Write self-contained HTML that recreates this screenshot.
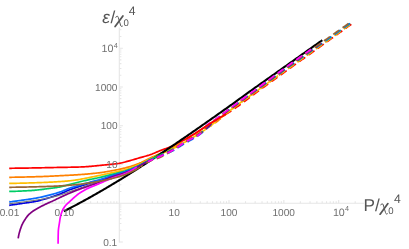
<!DOCTYPE html>
<html><head><meta charset="utf-8"><title>plot</title>
<style>
html,body{margin:0;padding:0;background:#fff;}
body{width:409px;height:249px;overflow:hidden;font-family:"Liberation Sans",sans-serif;}
svg{display:block;}
</style></head><body>
<svg width="409" height="249" viewBox="0 0 409 249">
<defs><filter id="tb" x="-5%" y="-20%" width="110%" height="140%"><feGaussianBlur stdDeviation="0.32"/></filter></defs>
<rect width="409" height="249" fill="#ffffff"/>
<g stroke="#e6e6e6" stroke-width="1.1" fill="none">
<path d="M9.2,203.2 H364"/>
<path d="M119.3,27.4 V242.4"/>
<path d="M9.60,203.2 v-3.3 M26.11,203.2 v-2 M35.77,203.2 v-2 M42.62,203.2 v-2 M47.94,203.2 v-2 M52.28,203.2 v-2 M55.95,203.2 v-2 M59.13,203.2 v-2 M61.94,203.2 v-2 M64.45,203.2 v-3.3 M80.96,203.2 v-2 M90.62,203.2 v-2 M97.47,203.2 v-2 M102.79,203.2 v-2 M107.13,203.2 v-2 M110.80,203.2 v-2 M113.98,203.2 v-2 M116.79,203.2 v-2 M135.81,203.2 v-2 M145.47,203.2 v-2 M152.32,203.2 v-2 M157.64,203.2 v-2 M161.98,203.2 v-2 M165.65,203.2 v-2 M168.83,203.2 v-2 M171.64,203.2 v-2 M174.15,203.2 v-3.3 M190.66,203.2 v-2 M200.32,203.2 v-2 M207.17,203.2 v-2 M212.49,203.2 v-2 M216.83,203.2 v-2 M220.50,203.2 v-2 M223.68,203.2 v-2 M226.49,203.2 v-2 M229.00,203.2 v-3.3 M245.51,203.2 v-2 M255.17,203.2 v-2 M262.02,203.2 v-2 M267.34,203.2 v-2 M271.68,203.2 v-2 M275.35,203.2 v-2 M278.53,203.2 v-2 M281.34,203.2 v-2 M283.85,203.2 v-3.3 M300.36,203.2 v-2 M310.02,203.2 v-2 M316.87,203.2 v-2 M322.19,203.2 v-2 M326.53,203.2 v-2 M330.20,203.2 v-2 M333.38,203.2 v-2 M336.19,203.2 v-2 M338.70,203.2 v-3.3 M355.21,203.2 v-2 M119.3,241.95 h3.6 M119.3,230.29 h2.1 M119.3,223.46 h2.1 M119.3,218.62 h2.1 M119.3,214.86 h2.1 M119.3,211.80 h2.1 M119.3,209.20 h2.1 M119.3,206.96 h2.1 M119.3,204.97 h2.1 M119.3,191.54 h2.1 M119.3,184.71 h2.1 M119.3,179.87 h2.1 M119.3,176.11 h2.1 M119.3,173.05 h2.1 M119.3,170.45 h2.1 M119.3,168.21 h2.1 M119.3,166.22 h2.1 M119.3,164.45 h3.6 M119.3,152.79 h2.1 M119.3,145.96 h2.1 M119.3,141.12 h2.1 M119.3,137.36 h2.1 M119.3,134.30 h2.1 M119.3,131.70 h2.1 M119.3,129.46 h2.1 M119.3,127.47 h2.1 M119.3,125.70 h3.6 M119.3,114.04 h2.1 M119.3,107.21 h2.1 M119.3,102.37 h2.1 M119.3,98.61 h2.1 M119.3,95.55 h2.1 M119.3,92.95 h2.1 M119.3,90.71 h2.1 M119.3,88.72 h2.1 M119.3,86.95 h3.6 M119.3,75.29 h2.1 M119.3,68.46 h2.1 M119.3,63.62 h2.1 M119.3,59.86 h2.1 M119.3,56.80 h2.1 M119.3,54.20 h2.1 M119.3,51.96 h2.1 M119.3,49.97 h2.1 M119.3,48.20 h3.6 M119.3,36.54 h2.1 M119.3,29.71 h2.1"/>
</g>
<g fill="none" stroke-width="1.7" stroke-linejoin="round" stroke-linecap="butt" transform="translate(0,0.4)">
<path d="M9.20,167.90 L10.20,167.89 L11.20,167.88 L12.20,167.86 L13.20,167.85 L14.20,167.84 L15.20,167.82 L16.20,167.81 L17.20,167.80 L18.20,167.78 L19.20,167.77 L20.20,167.75 L21.20,167.74 L22.20,167.72 L23.20,167.71 L24.20,167.69 L25.20,167.68 L26.20,167.66 L27.20,167.65 L28.20,167.63 L29.20,167.61 L30.20,167.60 L31.20,167.58 L32.20,167.56 L33.20,167.54 L34.20,167.53 L35.20,167.51 L36.20,167.49 L37.20,167.47 L38.20,167.45 L39.20,167.43 L40.20,167.41 L41.20,167.39 L42.20,167.37 L43.20,167.35 L44.20,167.33 L45.20,167.31 L46.20,167.29 L47.20,167.27 L48.20,167.25 L49.20,167.22 L50.20,167.20 L51.20,167.18 L52.20,167.16 L53.20,167.14 L54.20,167.12 L55.20,167.10 L56.20,167.08 L57.20,167.06 L58.20,167.04 L59.20,167.02 L60.20,167.00 L61.20,166.98 L62.20,166.96 L63.20,166.94 L64.20,166.92 L65.20,166.91 L66.20,166.89 L67.20,166.88 L68.20,166.86 L69.20,166.84 L70.20,166.83 L71.20,166.81 L72.20,166.79 L73.20,166.77 L74.20,166.75 L75.20,166.73 L76.20,166.71 L77.20,166.68 L78.20,166.65 L79.20,166.62 L80.20,166.59 L81.20,166.56 L82.20,166.51 L83.20,166.46 L84.20,166.40 L85.20,166.34 L86.20,166.28 L87.20,166.21 L88.20,166.13 L89.20,166.06 L90.20,165.98 L91.20,165.90 L92.20,165.81 L93.20,165.72 L94.20,165.62 L95.20,165.51 L96.20,165.40 L97.20,165.29 L98.20,165.19 L99.20,165.08 L100.20,164.98 L101.20,164.88 L102.20,164.78 L103.20,164.68 L104.20,164.59 L105.20,164.49 L106.20,164.39 L107.20,164.29 L108.20,164.19 L109.20,164.08 L110.20,163.98 L111.20,163.88 L112.20,163.78 L113.20,163.68 L114.20,163.59 L115.20,163.48 L116.20,163.37 L117.20,163.25 L118.20,163.12 L119.20,162.97 L120.20,162.78 L121.20,162.57 L122.20,162.32 L123.20,162.07 L124.20,161.81 L125.20,161.55 L126.20,161.29 L127.20,161.02 L128.20,160.75 L129.20,160.47 L130.20,160.18 L131.20,159.90 L132.20,159.60 L133.20,159.31 L134.20,159.01 L135.20,158.71 L136.20,158.42 L137.20,158.12 L138.20,157.82 L139.20,157.53 L140.20,157.24 L141.20,156.96 L142.20,156.68 L143.20,156.41 L144.20,156.14 L145.20,155.86 L146.20,155.58 L147.20,155.29 L148.20,154.98 L149.20,154.67 L150.20,154.33 L151.20,153.97 L152.20,153.59 L153.20,153.18 L154.20,152.76 L155.20,152.33 L156.20,151.89 L157.20,151.46 L158.20,151.04 L159.20,150.62 L160.20,150.22 L161.20,149.84 L162.20,149.47 L163.20,149.11 L164.20,148.75 L165.20,148.40 L166.20,148.04 L167.20,147.68 L168.20,147.31 L169.20,146.94 L170.20,146.55 L171.20,146.14 L172.20,145.71 L173.20,145.27 L174.20,144.80 L175.20,144.33 L176.20,143.83 L177.20,143.33 L178.20,142.81 L179.20,142.28 L180.20,141.75 L181.20,141.21 L182.20,140.66 L183.20,140.10 L184.20,139.55 L185.20,138.99 L186.20,138.42 L187.20,137.85 L188.20,137.26 L189.20,136.67 L190.20,136.07 L191.20,135.46 L192.20,134.85 L193.20,134.23 L194.20,133.60 L195.20,132.97 L196.20,132.34 L197.20,131.70 L198.20,131.06 L199.20,130.42 L200.20,129.77 L201.20,129.11 L202.20,128.44 L203.20,127.76 L204.20,127.07 L205.20,126.39 L206.20,125.72 L207.20,125.07 L208.20,124.43 L209.20,123.79 L210.20,123.16 L211.20,122.54 L212.20,121.92 L213.20,121.30 L214.20,120.69 L215.20,120.08 L216.20,119.47 L217.20,118.88 L218.20,118.29 L219.20,117.71 L220.20,117.13 L221.20,116.56 L222.20,115.98 L223.20,115.40 L224.20,114.82 L225.20,114.23 L226.00,113.76" stroke="#ff0000"/>
<path d="M9.20,176.90 L10.20,176.89 L11.20,176.88 L12.20,176.87 L13.20,176.85 L14.20,176.84 L15.20,176.82 L16.20,176.81 L17.20,176.79 L18.20,176.77 L19.20,176.75 L20.20,176.73 L21.20,176.71 L22.20,176.69 L23.20,176.67 L24.20,176.64 L25.20,176.62 L26.20,176.59 L27.20,176.57 L28.20,176.54 L29.20,176.52 L30.20,176.49 L31.20,176.46 L32.20,176.43 L33.20,176.40 L34.20,176.38 L35.20,176.35 L36.20,176.32 L37.20,176.29 L38.20,176.26 L39.20,176.22 L40.20,176.19 L41.20,176.16 L42.20,176.13 L43.20,176.09 L44.20,176.05 L45.20,176.01 L46.20,175.97 L47.20,175.92 L48.20,175.88 L49.20,175.83 L50.20,175.79 L51.20,175.74 L52.20,175.69 L53.20,175.64 L54.20,175.59 L55.20,175.54 L56.20,175.49 L57.20,175.44 L58.20,175.39 L59.20,175.34 L60.20,175.29 L61.20,175.24 L62.20,175.19 L63.20,175.14 L64.20,175.09 L65.20,175.04 L66.20,174.99 L67.20,174.94 L68.20,174.89 L69.20,174.84 L70.20,174.79 L71.20,174.74 L72.20,174.68 L73.20,174.63 L74.20,174.57 L75.20,174.51 L76.20,174.45 L77.20,174.39 L78.20,174.32 L79.20,174.25 L80.20,174.19 L81.20,174.11 L82.20,174.04 L83.20,173.97 L84.20,173.89 L85.20,173.81 L86.20,173.72 L87.20,173.64 L88.20,173.55 L89.20,173.46 L90.20,173.37 L91.20,173.27 L92.20,173.17 L93.20,173.07 L94.20,172.97 L95.20,172.86 L96.20,172.75 L97.20,172.63 L98.20,172.52 L99.20,172.40 L100.20,172.28 L101.20,172.14 L102.20,172.00 L103.20,171.85 L104.20,171.69 L105.20,171.53 L106.20,171.36 L107.20,171.18 L108.20,171.00 L109.20,170.82 L110.20,170.63 L111.20,170.45 L112.20,170.26 L113.20,170.08 L114.20,169.89 L115.20,169.70 L116.20,169.51 L117.20,169.32 L118.20,169.12 L119.20,168.92 L120.20,168.71 L121.20,168.49 L122.20,168.27 L123.20,168.04 L124.20,167.80 L125.20,167.55 L126.20,167.29 L127.20,167.02 L128.20,166.73 L129.20,166.44 L130.20,166.13 L131.20,165.81 L132.20,165.49 L133.20,165.15 L134.20,164.80 L135.20,164.45 L136.20,164.08 L137.20,163.71 L138.20,163.32 L139.20,162.92 L140.20,162.48 L141.20,162.03 L142.20,161.55 L143.20,161.06 L144.20,160.56 L145.20,160.06 L146.20,159.56 L147.20,159.05 L148.20,158.56 L149.20,158.08 L150.20,157.61 L151.20,157.15 L152.20,156.70 L153.20,156.25 L154.20,155.80 L155.20,155.36 L156.20,154.91 L157.20,154.46 L158.20,154.02 L159.20,153.56 L160.20,153.11 L161.20,152.65 L162.20,152.20 L163.20,151.74 L164.20,151.29 L165.20,150.83 L166.20,150.37 L167.20,149.91 L168.20,149.44 L169.20,148.97 L170.20,148.48 L171.20,148.00 L172.20,147.50 L173.20,146.99 L174.20,146.48 L175.20,145.96 L176.00,145.54" stroke="#ff8000"/>
<path d="M9.20,183.00 L10.20,182.99 L11.20,182.97 L12.20,182.96 L13.20,182.94 L14.20,182.93 L15.20,182.91 L16.20,182.89 L17.20,182.87 L18.20,182.85 L19.20,182.83 L20.20,182.80 L21.20,182.78 L22.20,182.75 L23.20,182.73 L24.20,182.70 L25.20,182.67 L26.20,182.65 L27.20,182.62 L28.20,182.59 L29.20,182.56 L30.20,182.53 L31.20,182.50 L32.20,182.46 L33.20,182.43 L34.20,182.40 L35.20,182.36 L36.20,182.33 L37.20,182.30 L38.20,182.26 L39.20,182.23 L40.20,182.19 L41.20,182.16 L42.20,182.12 L43.20,182.08 L44.20,182.04 L45.20,182.00 L46.20,181.95 L47.20,181.91 L48.20,181.86 L49.20,181.81 L50.20,181.76 L51.20,181.71 L52.20,181.66 L53.20,181.60 L54.20,181.55 L55.20,181.49 L56.20,181.43 L57.20,181.37 L58.20,181.31 L59.20,181.25 L60.20,181.19 L61.20,181.12 L62.20,181.05 L63.20,180.98 L64.20,180.90 L65.20,180.82 L66.20,180.74 L67.20,180.65 L68.20,180.56 L69.20,180.46 L70.20,180.36 L71.20,180.24 L72.20,180.12 L73.20,179.99 L74.20,179.85 L75.20,179.70 L76.20,179.55 L77.20,179.39 L78.20,179.23 L79.20,179.07 L80.20,178.90 L81.20,178.72 L82.20,178.54 L83.20,178.35 L84.20,178.16 L85.20,177.96 L86.20,177.76 L87.20,177.56 L88.20,177.36 L89.20,177.16 L90.20,176.96 L91.20,176.75 L92.20,176.55 L93.20,176.34 L94.20,176.13 L95.20,175.92 L96.20,175.71 L97.20,175.49 L98.20,175.28 L99.20,175.07 L100.20,174.86 L101.20,174.64 L102.20,174.43 L103.20,174.22 L104.20,174.00 L105.20,173.78 L106.20,173.57 L107.20,173.35 L108.20,173.13 L109.20,172.91 L110.20,172.70 L111.20,172.48 L112.20,172.26 L113.20,172.04 L114.20,171.83 L115.20,171.62 L116.20,171.42 L117.20,171.21 L118.20,171.01 L119.20,170.80 L120.20,170.58 L121.20,170.36 L122.20,170.12 L123.20,169.88 L124.20,169.62 L125.20,169.34 L126.20,169.05 L127.20,168.74 L128.20,168.42 L129.20,168.07 L130.20,167.72 L131.20,167.35 L132.20,166.97 L133.20,166.58 L134.20,166.18 L135.20,165.77 L136.20,165.36 L137.20,164.94 L138.20,164.52 L139.20,164.08 L140.20,163.62 L141.20,163.14 L142.20,162.65 L143.20,162.15 L144.20,161.64 L145.20,161.13 L146.20,160.61 L147.20,160.10 L148.20,159.59 L149.20,159.09 L150.20,158.60 L151.20,158.12 L152.20,157.63 L153.20,157.14 L154.20,156.65 L155.20,156.16 L156.20,155.68 L157.20,155.20 L158.20,154.73 L159.20,154.26 L160.20,153.81 L161.20,153.37 L162.20,152.94 L163.20,152.53 L164.20,152.12 L165.20,151.72 L166.20,151.31 L167.20,150.90 L168.20,150.49 L169.20,150.07 L170.20,149.63 L171.20,149.18 L172.20,148.70 L173.20,148.21 L174.20,147.70 L175.20,147.17 L176.20,146.63 L177.20,146.08 L178.20,145.52 L179.20,144.95 L180.20,144.38 L181.20,143.80 L182.20,143.22 L183.20,142.64 L184.20,142.06 L185.20,141.49 L186.20,140.91 L187.20,140.34 L188.20,139.76 L189.20,139.19 L190.20,138.61 L191.20,138.03 L192.20,137.44 L193.20,136.85 L194.20,136.26 L195.20,135.66 L196.20,135.06 L197.20,134.45 L198.20,133.83 L199.20,133.21 L200.20,132.57 L201.20,131.93 L202.20,131.28 L203.20,130.61 L204.20,129.94 L205.00,129.39" stroke="#ffbf00"/>
<path d="M63.80,210.90 L64.80,210.40 L65.80,209.89 L66.80,209.38 L67.80,208.86 L68.80,208.35 L69.80,207.83 L70.80,207.32 L71.80,206.79 L72.80,206.27 L73.80,205.75 L74.80,205.22 L75.80,204.69 L76.80,204.16 L77.80,203.62 L78.80,203.09 L79.80,202.55 L80.80,202.01 L81.80,201.47 L82.80,200.92 L83.80,200.38 L84.80,199.83 L85.80,199.28 L86.80,198.73 L87.80,198.17 L88.80,197.62 L89.80,197.06 L90.80,196.50 L91.80,195.94 L92.80,195.38 L93.80,194.81 L94.80,194.24 L95.80,193.67 L96.80,193.10 L97.80,192.53 L98.80,191.96 L99.80,191.38 L100.80,190.80 L101.80,190.22 L102.80,189.64 L103.80,189.05 L104.80,188.47 L105.80,187.88 L106.80,187.29 L107.80,186.70 L108.80,186.11 L109.80,185.52 L110.80,184.92 L111.80,184.32 L112.80,183.72 L113.80,183.12 L114.80,182.52 L115.80,181.92 L116.80,181.31 L117.80,180.71 L118.80,180.10 L119.80,179.49 L120.80,178.87 L121.80,178.26 L122.80,177.65 L123.80,177.03 L124.80,176.41 L125.80,175.79 L126.80,175.17 L127.80,174.55 L128.80,173.93 L129.80,173.30 L130.80,172.67 L131.80,172.05 L132.80,171.42 L133.80,170.78 L134.80,170.15 L135.80,169.52 L136.80,168.88 L137.80,168.25 L138.80,167.61 L139.80,166.97 L140.80,166.33 L141.80,165.69 L142.80,165.04 L143.80,164.40 L144.80,163.75 L145.80,163.11 L146.80,162.46 L147.80,161.81 L148.80,161.16 L149.80,160.51 L150.80,159.86 L151.80,159.20 L152.80,158.55 L153.80,157.89 L154.80,157.23 L155.80,156.57 L156.80,155.91 L157.80,155.25 L158.80,154.59 L159.80,153.93 L160.80,153.26 L161.80,152.60 L162.80,151.93 L163.80,151.26 L164.80,150.60 L165.80,149.93 L166.80,149.26 L167.80,148.58 L168.80,147.91 L169.80,147.24 L170.80,146.56 L171.80,145.89 L172.80,145.21 L173.80,144.54 L174.80,143.86 L175.80,143.18 L176.80,142.50 L177.80,141.82 L178.80,141.14 L179.80,140.45 L180.80,139.77 L181.80,139.09 L182.80,138.40 L183.80,137.72 L184.80,137.03 L185.80,136.34 L186.80,135.66 L187.80,134.97 L188.80,134.28 L189.80,133.59 L190.80,132.90 L191.80,132.21 L192.80,131.51 L193.80,130.82 L194.80,130.13 L195.80,129.43 L196.80,128.74 L197.80,128.04 L198.80,127.35 L199.80,126.65 L200.80,125.95 L201.80,125.26 L202.80,124.56 L203.80,123.86 L204.80,123.16 L205.80,122.46 L206.80,121.76 L207.80,121.06 L208.80,120.36 L209.80,119.66 L210.80,118.95 L211.80,118.25 L212.80,117.55 L213.80,116.84 L214.80,116.14 L215.80,115.43 L216.80,114.73 L217.80,114.02 L218.80,113.32 L219.80,112.61 L220.80,111.91 L221.80,111.20 L222.80,110.49 L223.80,109.79 L224.80,109.08 L225.80,108.37 L226.80,107.66 L227.80,106.96 L228.80,106.25 L229.80,105.54 L230.80,104.82 L231.80,104.11 L232.80,103.39 L233.80,102.66 L234.80,101.94 L235.80,101.22 L236.80,100.49 L237.80,99.76 L238.80,99.04 L239.80,98.31 L240.80,97.58 L241.80,96.85 L242.80,96.13 L243.80,95.40 L244.80,94.68 L245.80,93.95 L246.80,93.23 L247.80,92.51 L248.80,91.79 L249.80,91.07 L250.80,90.36 L251.80,89.64 L252.80,88.93 L253.80,88.22 L254.80,87.51 L255.80,86.80 L256.80,86.09 L257.80,85.39 L258.80,84.68 L259.80,83.97 L260.80,83.27 L261.80,82.56 L262.80,81.86 L263.80,81.15 L264.80,80.45 L265.80,79.74 L266.80,79.04 L267.80,78.33 L268.80,77.63 L269.80,76.92 L270.80,76.21 L271.80,75.50 L272.80,74.80 L273.80,74.09 L274.80,73.38 L275.80,72.67 L276.80,71.97 L277.80,71.26 L278.80,70.55 L279.80,69.84 L280.80,69.14 L281.80,68.43 L282.80,67.72 L283.80,67.01 L284.80,66.31 L285.80,65.60 L286.80,64.89 L287.80,64.18 L288.80,63.48 L289.80,62.77 L290.80,62.06 L291.80,61.35 L292.80,60.65 L293.80,59.94 L294.80,59.23 L295.80,58.52 L296.80,57.82 L297.80,57.11 L298.80,56.40 L299.80,55.69 L300.80,54.99 L301.80,54.28 L302.80,53.57 L303.80,52.86 L304.80,52.16 L305.80,51.45 L306.80,50.74 L307.80,50.03 L308.80,49.33 L309.80,48.62 L310.80,47.91 L311.80,47.20 L312.80,46.50 L313.80,45.79 L314.80,45.08 L315.80,44.37 L316.80,43.67 L317.80,42.96 L318.80,42.25 L319.80,41.54 L320.80,40.84 L321.80,40.13 L322.30,39.78" stroke="#000" stroke-width="2.1"/>
<path d="M9.20,191.00 L10.20,191.00 L11.20,190.99 L12.20,190.97 L13.20,190.95 L14.20,190.93 L15.20,190.90 L16.20,190.87 L17.20,190.84 L18.20,190.80 L19.20,190.76 L20.20,190.72 L21.20,190.67 L22.20,190.62 L23.20,190.57 L24.20,190.52 L25.20,190.47 L26.20,190.41 L27.20,190.36 L28.20,190.30 L29.20,190.25 L30.20,190.19 L31.20,190.13 L32.20,190.05 L33.20,189.98 L34.20,189.89 L35.20,189.80 L36.20,189.70 L37.20,189.60 L38.20,189.49 L39.20,189.37 L40.20,189.26 L41.20,189.14 L42.20,189.01 L43.20,188.89 L44.20,188.76 L45.20,188.63 L46.20,188.50 L47.20,188.37 L48.20,188.23 L49.20,188.10 L50.20,187.97 L51.20,187.84 L52.20,187.71 L53.20,187.58 L54.20,187.44 L55.20,187.30 L56.20,187.15 L57.20,186.99 L58.20,186.82 L59.20,186.65 L60.20,186.46 L61.20,186.25 L62.20,186.03 L63.20,185.78 L64.20,185.52 L65.20,185.25 L66.20,184.97 L67.20,184.70 L68.20,184.42 L69.20,184.16 L70.20,183.90 L71.20,183.64 L72.20,183.38 L73.20,183.12 L74.20,182.87 L75.20,182.61 L76.20,182.35 L77.20,182.10 L78.20,181.85 L79.20,181.60 L80.20,181.35 L81.20,181.11 L82.20,180.87 L83.20,180.63 L84.20,180.39 L85.20,180.16 L86.20,179.92 L87.20,179.69 L88.20,179.47 L89.20,179.24 L90.20,179.03 L91.20,178.82 L92.20,178.61 L93.20,178.41 L94.20,178.21 L95.20,178.01 L96.20,177.81 L97.20,177.60 L98.20,177.39 L99.20,177.18 L100.20,176.95 L101.20,176.72 L102.20,176.49 L103.20,176.24 L104.20,176.00 L105.20,175.75 L106.20,175.49 L107.20,175.24 L108.20,174.98 L109.20,174.72 L110.20,174.46 L111.20,174.21 L112.20,173.95 L113.20,173.70 L114.20,173.45 L115.20,173.21 L116.20,172.96 L117.20,172.72 L118.20,172.47 L119.20,172.22 L120.20,171.96 L121.20,171.70 L122.20,171.43 L123.20,171.14 L124.20,170.85 L125.20,170.54 L126.20,170.21 L127.20,169.87 L128.20,169.52 L129.20,169.15 L130.20,168.77 L131.20,168.39 L132.20,167.98 L133.20,167.57 L134.20,167.16 L135.20,166.73 L136.20,166.30 L137.20,165.86 L138.20,165.41 L139.20,164.95 L140.20,164.46 L141.20,163.95 L142.20,163.43 L143.20,162.90 L144.20,162.36 L145.20,161.82 L146.20,161.28 L147.20,160.74 L148.20,160.21 L149.20,159.70 L150.20,159.20 L151.20,158.71 L152.20,158.23 L153.20,157.76 L154.20,157.29 L155.20,156.82 L156.20,156.35 L157.20,155.89 L158.20,155.43 L159.20,154.97 L160.00,154.60" stroke="#00cc66"/>
<path d="M9.20,204.90 L10.20,204.76 L11.20,204.61 L12.20,204.47 L13.20,204.33 L14.20,204.18 L15.20,204.04 L16.20,203.89 L17.20,203.75 L18.20,203.60 L19.20,203.45 L20.20,203.31 L21.20,203.16 L22.20,203.01 L23.20,202.87 L24.20,202.72 L25.20,202.57 L26.20,202.43 L27.20,202.29 L28.20,202.15 L29.20,202.01 L30.20,201.87 L31.20,201.73 L32.20,201.58 L33.20,201.42 L34.20,201.25 L35.20,201.06 L36.20,200.86 L37.20,200.65 L38.20,200.42 L39.20,200.17 L40.20,199.92 L41.20,199.65 L42.20,199.38 L43.20,199.11 L44.20,198.83 L45.20,198.54 L46.20,198.26 L47.20,197.96 L48.20,197.66 L49.20,197.35 L50.20,197.04 L51.20,196.71 L52.20,196.39 L53.20,196.05 L54.20,195.71 L55.20,195.36 L56.20,195.01 L57.20,194.65 L58.20,194.28 L59.20,193.90 L60.20,193.52 L61.20,193.12 L62.20,192.69 L63.20,192.24 L64.20,191.77 L65.20,191.31 L66.20,190.84 L67.20,190.39 L68.20,189.95 L69.20,189.53 L70.20,189.15 L71.20,188.78 L72.20,188.43 L73.20,188.08 L74.20,187.75 L75.20,187.42 L76.20,187.10 L77.20,186.77 L78.20,186.45 L79.20,186.13 L80.20,185.80 L81.20,185.48 L82.20,185.16 L83.20,184.84 L84.20,184.52 L85.20,184.20 L86.20,183.89 L87.20,183.58 L88.20,183.27 L89.20,182.96 L90.20,182.66 L91.20,182.36 L92.20,182.08 L93.20,181.79 L94.20,181.51 L95.20,181.22 L96.20,180.94 L97.20,180.65 L98.20,180.35 L99.20,180.05 L100.20,179.74 L101.20,179.41 L102.20,179.08 L103.20,178.74 L104.20,178.40 L105.20,178.05 L106.20,177.69 L107.20,177.34 L108.20,176.99 L109.20,176.64 L110.20,176.30 L111.20,175.96 L112.20,175.64 L113.20,175.32 L114.20,175.01 L115.20,174.71 L116.20,174.42 L117.20,174.13 L118.20,173.84 L119.20,173.55 L120.20,173.25 L121.20,172.95 L122.20,172.64 L123.20,172.32 L124.20,171.98 L125.20,171.63 L126.20,171.26 L127.20,170.89 L128.20,170.50 L129.20,170.10 L130.20,169.69 L131.20,169.27 L132.20,168.84 L133.20,168.40 L134.20,167.95 L135.20,167.50 L136.20,167.04 L137.20,166.58 L138.20,166.10 L139.20,165.62 L140.20,165.10 L141.20,164.58 L142.20,164.03 L143.20,163.48 L144.20,162.93 L145.20,162.37 L146.20,161.82 L147.20,161.27 L148.20,160.73 L149.20,160.21 L150.00,159.80" stroke="#0000e0"/>
<path d="M9.20,201.60 L10.20,201.47 L11.20,201.33 L12.20,201.20 L13.20,201.06 L14.20,200.93 L15.20,200.79 L16.20,200.65 L17.20,200.51 L18.20,200.37 L19.20,200.23 L20.20,200.09 L21.20,199.95 L22.20,199.80 L23.20,199.66 L24.20,199.52 L25.20,199.37 L26.20,199.23 L27.20,199.09 L28.20,198.95 L29.20,198.80 L30.20,198.66 L31.20,198.51 L32.20,198.36 L33.20,198.20 L34.20,198.04 L35.20,197.86 L36.20,197.68 L37.20,197.50 L38.20,197.30 L39.20,197.10 L40.20,196.89 L41.20,196.67 L42.20,196.45 L43.20,196.22 L44.20,195.99 L45.20,195.75 L46.20,195.51 L47.20,195.27 L48.20,195.02 L49.20,194.76 L50.20,194.50 L51.20,194.23 L52.20,193.96 L53.20,193.68 L54.20,193.40 L55.20,193.11 L56.20,192.81 L57.20,192.50 L58.20,192.19 L59.20,191.86 L60.20,191.53 L61.20,191.18 L62.20,190.79 L63.20,190.38 L64.20,189.96 L65.20,189.53 L66.20,189.10 L67.20,188.69 L68.20,188.29 L69.20,187.91 L70.20,187.57 L71.20,187.24 L72.20,186.93 L73.20,186.63 L74.20,186.33 L75.20,186.05 L76.20,185.77 L77.20,185.48 L78.20,185.20 L79.20,184.92 L80.20,184.63 L81.20,184.33 L82.20,184.04 L83.20,183.75 L84.20,183.47 L85.20,183.18 L86.20,182.89 L87.20,182.61 L88.20,182.33 L89.20,182.05 L90.20,181.78 L91.20,181.52 L92.20,181.26 L93.20,181.00 L94.20,180.75 L95.20,180.49 L96.20,180.24 L97.20,179.97 L98.20,179.71 L99.20,179.43 L100.20,179.14 L101.20,178.84 L102.20,178.53 L103.20,178.21 L104.20,177.88 L105.20,177.55 L106.20,177.21 L107.20,176.88 L108.20,176.54 L109.20,176.21 L110.20,175.88 L111.20,175.55 L112.20,175.24 L113.20,174.93 L114.20,174.64 L115.20,174.35 L116.20,174.06 L117.20,173.78 L118.20,173.49 L119.20,173.21 L120.20,172.92 L121.20,172.62 L122.20,172.32 L123.20,172.00 L124.20,171.67 L125.20,171.33 L126.20,170.97 L127.20,170.60 L128.20,170.22 L129.20,169.83 L130.20,169.43 L131.20,169.01 L132.20,168.59 L133.20,168.16 L134.20,167.72 L135.20,167.28 L136.20,166.83 L137.20,166.37 L138.20,165.91 L139.20,165.42 L140.20,164.90 L141.20,164.37 L142.20,163.81 L143.20,163.25 L144.20,162.69 L145.20,162.13 L146.20,161.58 L147.20,161.05 L148.20,160.54 L149.20,160.06 L150.00,159.70" stroke="#0a6cff"/>
<path d="M9.20,203.40 L10.20,203.27 L11.20,203.14 L12.20,203.01 L13.20,202.88 L14.20,202.75 L15.20,202.62 L16.20,202.49 L17.20,202.35 L18.20,202.22 L19.20,202.09 L20.20,201.95 L21.20,201.82 L22.20,201.68 L23.20,201.55 L24.20,201.41 L25.20,201.27 L26.20,201.14 L27.20,201.00 L28.20,200.87 L29.20,200.73 L30.20,200.59 L31.20,200.45 L32.20,200.31 L33.20,200.17 L34.20,200.02 L35.20,199.87 L36.20,199.71 L37.20,199.56 L38.20,199.40 L39.20,199.23 L40.20,199.07 L41.20,198.90 L42.20,198.72 L43.20,198.54 L44.20,198.35 L45.20,198.16 L46.20,197.96 L47.20,197.76 L48.20,197.56 L49.20,197.35 L50.20,197.14 L51.20,196.92 L52.20,196.69 L53.20,196.46 L54.20,196.22 L55.20,195.98 L56.20,195.73 L57.20,195.47 L58.20,195.20 L59.20,194.93 L60.20,194.64 L61.20,194.34 L62.20,194.01 L63.20,193.66 L64.20,193.29 L65.20,192.92 L66.20,192.54 L67.20,192.16 L68.20,191.78 L69.20,191.41 L70.20,191.06 L71.20,190.71 L72.20,190.36 L73.20,190.02 L74.20,189.67 L75.20,189.33 L76.20,188.98 L77.20,188.64 L78.20,188.29 L79.20,187.94 L80.20,187.59 L81.20,187.23 L82.20,186.88 L83.20,186.52 L84.20,186.16 L85.20,185.80 L86.20,185.44 L87.20,185.08 L88.20,184.72 L89.20,184.37 L90.20,184.02 L91.20,183.67 L92.20,183.32 L93.20,182.97 L94.20,182.62 L95.20,182.28 L96.00,182.00" stroke="#7a7a7a" stroke-width="1.1"/>
<path d="M18.20,238.00 L18.34,236.99 L18.51,235.98 L18.70,234.99 L18.91,234.00 L19.15,233.02 L19.41,232.05 L19.68,231.09 L19.97,230.13 L20.27,229.18 L20.59,228.24 L20.92,227.31 L21.25,226.38 L21.59,225.46 L21.97,224.54 L22.40,223.64 L22.86,222.74 L23.35,221.86 L23.86,220.99 L24.37,220.13 L24.90,219.28 L25.44,218.44 L26.00,217.60 L26.59,216.77 L27.20,215.97 L27.84,215.21 L28.50,214.49 L29.20,213.80 L29.94,213.13 L30.71,212.48 L31.51,211.86 L32.32,211.25 L33.14,210.66 L33.96,210.09 L34.79,209.54 L35.63,209.02 L36.50,208.51 L37.37,208.02 L38.25,207.54 L39.14,207.07 L40.03,206.60 L40.91,206.14 L41.80,205.68 L42.69,205.23 L43.59,204.79 L44.49,204.35 L45.39,203.92 L46.30,203.49 L47.20,203.07 L48.11,202.65 L49.03,202.25 L49.94,201.85 L50.86,201.44 L51.77,201.03 L52.68,200.62 L53.58,200.19 L54.49,199.76 L55.39,199.32 L56.29,198.88 L57.18,198.45 L58.08,198.01 L58.99,197.58 L59.89,197.15 L60.80,196.73 L61.70,196.31 L62.61,195.89 L63.52,195.47 L64.43,195.06 L65.34,194.65 L66.26,194.24 L67.17,193.83 L68.09,193.43 L69.01,193.04 L69.93,192.65 L70.85,192.26 L71.77,191.88 L72.70,191.50 L73.62,191.12 L74.55,190.75 L75.48,190.38 L76.41,190.01 L77.35,189.65 L78.28,189.29 L79.22,188.94 L80.15,188.60 L81.09,188.26 L82.04,187.92 L82.98,187.60 L83.93,187.27 L84.87,186.95 L85.82,186.63 L86.77,186.31 L87.71,185.99 L88.66,185.66 L89.60,185.33 L90.55,185.00 L91.49,184.67 L92.44,184.34 L93.38,184.01 L94.33,183.68 L95.27,183.35 L96.21,183.01 L97.15,182.67 L98.09,182.32 L99.03,181.97 L99.96,181.62 L100.89,181.25 L101.81,180.86 L102.73,180.47 L103.65,180.07 L104.56,179.66 L105.48,179.25 L106.39,178.84 L107.30,178.43 L108.22,178.03 L109.14,177.63 L110.06,177.25 L110.99,176.88 L111.92,176.53 L112.86,176.20 L113.81,175.88 L114.76,175.57 L115.72,175.28 L116.68,174.99 L117.64,174.71 L118.61,174.43 L119.57,174.15 L120.53,173.87 L121.49,173.58 L122.44,173.28 L123.39,172.97 L124.33,172.64 L125.27,172.30 L126.20,171.94 L127.12,171.58 L128.05,171.20 L128.97,170.82 L129.88,170.42 L130.80,170.02 L131.71,169.61 L132.62,169.19 L133.53,168.76 L134.43,168.32 L135.33,167.88 L136.22,167.42 L137.12,166.96 L138.00,166.50 L139.00,165.91 L140.00,165.33 L141.00,164.76 L142.00,164.20 L143.00,163.64 L144.00,163.10 L145.00,162.56 L146.00,162.03 L147.00,161.51 L148.00,161.00 L149.00,160.49 L150.00,160.00" stroke="#800080"/>
<path d="M58.10,243.40 L58.10,242.40 L58.11,241.39 L58.11,240.39 L58.12,239.39 L58.14,238.39 L58.15,237.39 L58.17,236.39 L58.19,235.39 L58.21,234.39 L58.24,233.39 L58.27,232.40 L58.29,231.40 L58.34,230.41 L58.41,229.41 L58.52,228.42 L58.64,227.43 L58.79,226.44 L58.95,225.45 L59.11,224.46 L59.28,223.47 L59.44,222.48 L59.59,221.49 L59.73,220.50 L59.87,219.50 L60.02,218.51 L60.19,217.53 L60.40,216.56 L60.63,215.57 L60.88,214.59 L61.16,213.62 L61.47,212.65 L61.80,211.70 L62.15,210.78 L62.52,209.87 L62.94,208.99 L63.43,208.12 L63.97,207.27 L64.56,206.44 L65.18,205.63 L65.82,204.85 L66.47,204.11 L67.18,203.42 L67.94,202.75 L68.70,202.09 L69.43,201.41 L70.17,200.73 L70.90,200.05 L71.63,199.36 L72.36,198.68 L73.10,198.01 L73.84,197.34 L74.60,196.69 L75.36,196.04 L76.12,195.39 L76.90,194.75 L77.68,194.12 L78.47,193.51 L79.27,192.93 L80.10,192.37 L80.94,191.83 L81.80,191.32 L82.67,190.82 L83.54,190.33 L84.42,189.84 L85.30,189.37 L86.18,188.89 L87.07,188.43 L87.96,187.98 L88.86,187.55 L89.77,187.13 L90.69,186.74 L91.62,186.37 L92.55,186.00 L93.48,185.63 L94.41,185.26 L95.33,184.87 L96.25,184.48 L97.17,184.10 L98.09,183.71 L99.01,183.32 L99.94,182.93 L100.86,182.54 L101.77,182.14 L102.69,181.74 L103.61,181.34 L104.52,180.93 L105.44,180.53 L106.36,180.13 L107.28,179.73 L108.20,179.34 L109.12,178.95 L110.04,178.57 L110.97,178.20 L111.90,177.84 L112.83,177.49 L113.78,177.16 L114.73,176.83 L115.68,176.52 L116.64,176.22 L117.60,175.91 L118.56,175.61 L119.52,175.31 L120.47,175.00 L121.42,174.68 L122.36,174.34 L123.29,174.00 L124.21,173.63 L125.12,173.25 L126.02,172.84 L126.92,172.42 L127.81,171.98 L128.69,171.52 L129.57,171.05 L130.45,170.57 L131.32,170.07 L132.18,169.55 L133.04,169.03 L133.89,168.49 L134.74,167.94 L135.58,167.37 L136.41,166.80 L136.70,166.60" stroke="#ff00ff"/>
<path d="M9.20,186.90 L10.20,186.89 L11.20,186.88 L12.20,186.87 L13.20,186.86 L14.20,186.85 L15.20,186.84 L16.20,186.82 L17.20,186.81 L18.20,186.79 L19.20,186.78 L20.20,186.76 L21.20,186.74 L22.20,186.72 L23.20,186.70 L24.20,186.68 L25.20,186.66 L26.20,186.64 L27.20,186.62 L28.20,186.60 L29.20,186.57 L30.20,186.55 L31.20,186.53 L32.20,186.50 L33.20,186.48 L34.20,186.45 L35.20,186.43 L36.20,186.40 L37.20,186.37 L38.20,186.35 L39.20,186.32 L40.20,186.29 L41.20,186.27 L42.20,186.24 L43.20,186.21 L44.20,186.18 L45.20,186.14 L46.20,186.11 L47.20,186.07 L48.20,186.04 L49.20,186.00 L50.20,185.96 L51.20,185.92 L52.20,185.87 L53.20,185.83 L54.20,185.79 L55.20,185.74 L56.20,185.69 L57.20,185.64 L58.20,185.59 L59.20,185.54 L60.20,185.49 L61.20,185.43 L62.20,185.37 L63.20,185.30 L64.20,185.23 L65.20,185.16 L66.20,185.09 L67.20,185.01 L68.20,184.93 L69.20,184.85 L70.20,184.77 L71.20,184.69 L72.20,184.60 L73.20,184.52 L74.20,184.43 L75.20,184.34 L76.20,184.25 L77.20,184.15 L78.20,184.05 L79.20,183.94 L80.20,183.83 L81.20,183.71 L82.20,183.58 L83.20,183.44 L84.20,183.29 L85.20,183.14 L86.20,182.99 L87.20,182.84 L88.20,182.68 L89.20,182.53 L90.20,182.38 L91.20,182.23 L92.20,182.08 L93.20,181.93 L94.20,181.77 L95.20,181.61 L96.20,181.45 L97.20,181.29 L98.20,181.12 L99.20,180.94 L100.20,180.76 L101.20,180.58 L102.20,180.38 L103.20,180.18 L104.20,179.98 L105.20,179.77 L106.20,179.56 L107.20,179.34 L108.20,179.11 L109.20,178.88 L110.20,178.64 L111.20,178.40 L112.20,178.15 L113.20,177.90 L114.20,177.64 L115.20,177.37 L116.20,177.10 L117.20,176.82 L118.20,176.53 L119.20,176.24 L120.20,175.93 L121.20,175.61 L122.20,175.28 L123.20,174.94 L124.20,174.59 L125.20,174.23 L126.20,173.84 L127.20,173.43 L128.20,172.99 L129.20,172.54 L130.20,172.07 L131.20,171.58 L132.20,171.08 L133.20,170.57 L134.20,170.04 L135.20,169.51 L136.20,168.98 L137.20,168.43 L138.20,167.89 L139.20,167.31 L140.00,166.82" stroke="#996633"/>
<path d="M226.00,113.76 L227.00,113.16 L228.00,112.54 L229.00,111.92 L230.00,111.28 L231.00,110.63 L232.00,109.96 L233.00,109.29 L234.00,108.61 L235.00,107.92 L236.00,107.22 L237.00,106.51 L238.00,105.80 L239.00,105.08 L240.00,104.35 L241.00,103.62 L242.00,102.88 L243.00,102.14 L244.00,101.40 L245.00,100.65 L246.00,99.90 L247.00,99.15 L248.00,98.40 L249.00,97.65 L250.00,96.89 L251.00,96.14 L252.00,95.38 L253.00,94.63 L254.00,93.88 L255.00,93.13 L256.00,92.39 L257.00,91.65 L258.00,90.91 L259.00,90.18 L260.00,89.45 L261.00,88.73 L262.00,88.00 L263.00,87.28 L264.00,86.56 L265.00,85.83 L266.00,85.11 L267.00,84.39 L268.00,83.67 L269.00,82.94 L270.00,82.22 L271.00,81.50 L272.00,80.78 L273.00,80.06 L274.00,79.34 L275.00,78.62 L276.00,77.89 L277.00,77.17 L278.00,76.45 L279.00,75.73 L280.00,75.01 L281.00,74.29 L282.00,73.57 L283.00,72.86 L284.00,72.14 L285.00,71.42 L286.00,70.70 L287.00,69.98 L288.00,69.26 L289.00,68.55 L290.00,67.83 L291.00,67.11 L292.00,66.39 L293.00,65.68 L294.00,64.96 L295.00,64.25 L296.00,63.53 L297.00,62.82 L298.00,62.10 L299.00,61.39 L300.00,60.68 L301.00,59.96 L302.00,59.25 L303.00,58.54 L304.00,57.83 L305.00,57.11 L306.00,56.40 L307.00,55.69 L308.00,54.98 L309.00,54.26 L310.00,53.55 L311.00,52.84 L312.00,52.12 L313.00,51.41 L314.00,50.70 L315.00,49.98 L316.00,49.27 L317.00,48.55 L318.00,47.84 L319.00,47.12 L320.00,46.40 L321.00,45.69 L322.00,44.97 L323.00,44.25 L324.00,43.53 L325.00,42.81 L326.00,42.10 L327.00,41.38 L328.00,40.66 L329.00,39.94 L330.00,39.22 L331.00,38.50 L332.00,37.78 L333.00,37.06 L334.00,36.34 L335.00,35.62 L336.00,34.90 L337.00,34.18 L338.00,33.46 L339.00,32.74 L340.00,32.02 L341.00,31.30 L342.00,30.58 L343.00,29.86 L344.00,29.13 L345.00,28.41 L346.00,27.69 L347.00,26.97 L348.00,26.24 L349.00,25.52 L350.00,24.80 L351.00,24.08 L351.30,23.86" stroke="#ff0000" stroke-dasharray="7.3 4.1" stroke-dashoffset="1.00"/>
<path d="M176.00,145.54 L177.00,145.00 L178.00,144.47 L179.00,143.92 L180.00,143.38 L181.00,142.82 L182.00,142.27 L183.00,141.71 L184.00,141.16 L185.00,140.60 L186.00,140.04 L187.00,139.47 L188.00,138.90 L189.00,138.33 L190.00,137.75 L191.00,137.17 L192.00,136.59 L193.00,136.00 L194.00,135.42 L195.00,134.83 L196.00,134.24 L197.00,133.66 L198.00,133.07 L199.00,132.48 L200.00,131.90 L201.00,131.32 L202.00,130.74 L203.00,130.17 L204.00,129.59 L205.00,129.00 L206.00,128.41 L207.00,127.80 L208.00,127.18 L209.00,126.56 L210.00,125.94 L211.00,125.30 L212.00,124.65 L213.00,123.99 L214.00,123.30 L215.00,122.60 L216.00,121.87 L217.00,121.11 L218.00,120.33 L219.00,119.52 L220.00,118.70 L221.00,117.86 L222.00,117.02 L223.00,116.17 L224.00,115.32 L225.00,114.47 L226.00,113.62 L227.00,112.79 L228.00,111.97 L229.00,111.16 L230.00,110.38 L231.00,109.61 L232.00,108.85 L233.00,108.09 L234.00,107.34 L235.00,106.59 L236.00,105.85 L237.00,105.11 L238.00,104.38 L239.00,103.65 L240.00,102.92 L241.00,102.20 L242.00,101.48 L243.00,100.76 L244.00,100.04 L245.00,99.33 L246.00,98.62 L247.00,97.91 L248.00,97.20 L249.00,96.49 L250.00,95.78 L251.00,95.07 L252.00,94.36 L253.00,93.66 L254.00,92.95 L255.00,92.23 L256.00,91.52 L257.00,90.81 L258.00,90.09 L259.00,89.37 L260.00,88.65 L261.00,87.93 L262.00,87.21 L263.00,86.48 L264.00,85.76 L265.00,85.04 L266.00,84.32 L267.00,83.59 L268.00,82.87 L269.00,82.15 L270.00,81.43 L271.00,80.70 L272.00,79.98 L273.00,79.26 L274.00,78.54 L275.00,77.82 L276.00,77.09 L277.00,76.37 L278.00,75.65 L279.00,74.93 L280.00,74.21 L281.00,73.49 L282.00,72.77 L283.00,72.05 L284.00,71.33 L285.00,70.61 L286.00,69.90 L287.00,69.18 L288.00,68.46 L289.00,67.74 L290.00,67.03 L291.00,66.31 L292.00,65.60 L293.00,64.88 L294.00,64.17 L295.00,63.46 L296.00,62.75 L297.00,62.04 L298.00,61.32 L299.00,60.61 L300.00,59.90 L301.00,59.19 L302.00,58.49 L303.00,57.78 L304.00,57.07 L305.00,56.36 L306.00,55.65 L307.00,54.94 L308.00,54.23 L309.00,53.52 L310.00,52.81 L311.00,52.10 L312.00,51.39 L313.00,50.69 L314.00,49.97 L315.00,49.26 L316.00,48.55 L317.00,47.84 L318.00,47.13 L319.00,46.42 L320.00,45.70 L321.00,44.99 L322.00,44.27 L323.00,43.56 L324.00,42.85 L325.00,42.13 L326.00,41.42 L327.00,40.70 L328.00,39.98 L329.00,39.27 L330.00,38.55 L331.00,37.84 L332.00,37.12 L333.00,36.40 L334.00,35.69 L335.00,34.97 L336.00,34.25 L337.00,33.54 L338.00,32.82 L339.00,32.10 L340.00,31.38 L341.00,30.67 L342.00,29.95 L343.00,29.23 L344.00,28.51 L345.00,27.79 L346.00,27.07 L347.00,26.35 L348.00,25.63 L349.00,24.91 L350.00,24.19 L351.00,23.47 L351.30,23.26" stroke="#ff8000" stroke-dasharray="7.3 4.1" stroke-dashoffset="0.34"/>
<path d="M205.00,129.39 L206.00,128.70 L207.00,128.00 L208.00,127.28 L209.00,126.55 L210.00,125.81 L211.00,125.06 L212.00,124.30 L213.00,123.54 L214.00,122.77 L215.00,122.00 L216.00,121.23 L217.00,120.44 L218.00,119.65 L219.00,118.85 L220.00,118.05 L221.00,117.24 L222.00,116.43 L223.00,115.62 L224.00,114.82 L225.00,114.01 L226.00,113.21 L227.00,112.41 L228.00,111.63 L229.00,110.85 L230.00,110.08 L231.00,109.32 L232.00,108.56 L233.00,107.81 L234.00,107.06 L235.00,106.31 L236.00,105.57 L237.00,104.83 L238.00,104.10 L239.00,103.37 L240.00,102.64 L241.00,101.91 L242.00,101.18 L243.00,100.46 L244.00,99.74 L245.00,99.02 L246.00,98.30 L247.00,97.58 L248.00,96.86 L249.00,96.15 L250.00,95.43 L251.00,94.72 L252.00,94.00 L253.00,93.29 L254.00,92.57 L255.00,91.85 L256.00,91.14 L257.00,90.42 L258.00,89.70 L259.00,88.98 L260.00,88.25 L261.00,87.53 L262.00,86.80 L263.00,86.08 L264.00,85.36 L265.00,84.63 L266.00,83.91 L267.00,83.19 L268.00,82.46 L269.00,81.74 L270.00,81.02 L271.00,80.30 L272.00,79.57 L273.00,78.85 L274.00,78.13 L275.00,77.41 L276.00,76.69 L277.00,75.97 L278.00,75.25" stroke="#ffbf00" stroke-dasharray="7.3 4.1" stroke-dashoffset="5.14"/>
<path d="M282.00,72.37 L283.00,71.65 L284.00,70.93 L285.00,70.21 L286.00,69.49 L287.00,68.78 L288.00,68.06 L289.00,67.34 L290.00,66.63 L291.00,65.91 L292.00,65.20 L293.00,64.48 L294.00,63.77 L295.00,63.06 L296.00,62.35 L297.00,61.63 L298.00,60.92 L299.00,60.21 L300.00,59.50 L301.00,58.79 L302.00,58.08 L303.00,57.37 L304.00,56.66 L305.00,55.95 L306.00,55.24 L307.00,54.53 L308.00,53.82 L309.00,53.12 L310.00,52.41 L311.00,51.70 L312.00,50.99 L313.00,50.28 L314.00,49.57 L315.00,48.86 L316.00,48.15 L317.00,47.44 L318.00,46.73 L319.00,46.01 L320.00,45.30 L321.00,44.59 L322.00,43.88 L323.00,43.17 L324.00,42.45 L325.00,41.74 L326.00,41.03 L327.00,40.31 L328.00,39.60 L329.00,38.89 L330.00,38.17 L331.00,37.46 L332.00,36.75 L333.00,36.03 L334.00,35.32 L335.00,34.61 L336.00,33.89 L337.00,33.18 L338.00,32.46 L339.00,31.75 L340.00,31.04 L341.00,30.32 L342.00,29.61 L343.00,28.89 L344.00,28.18 L345.00,27.46 L346.00,26.75 L347.00,26.03 L348.00,25.32 L349.00,24.60 L350.00,23.89 L351.00,23.17 L351.30,22.96" stroke="#ffbf00" stroke-dasharray="7.3 4.1" stroke-dashoffset="3.85"/>
<path d="M160.00,154.60 L161.00,154.15 L162.00,153.70 L163.00,153.26 L164.00,152.83 L165.00,152.39 L166.00,151.96 L167.00,151.52 L168.00,151.08 L169.00,150.63 L170.00,150.17 L171.00,149.69 L172.00,149.20 L173.00,148.69 L174.00,148.17 L175.00,147.64 L176.00,147.09 L177.00,146.53 L178.00,145.97 L179.00,145.39 L180.00,144.82 L181.00,144.23 L182.00,143.65 L183.00,143.07 L184.00,142.48 L185.00,141.90 L186.00,141.32 L187.00,140.75 L188.00,140.18 L189.00,139.61 L190.00,139.03 L191.00,138.46 L192.00,137.88 L193.00,137.29 L194.00,136.70 L195.00,136.10 L196.00,135.49 L197.00,134.86 L198.00,134.22 L199.00,133.57 L200.00,132.90 L201.00,132.21 L202.00,131.50 L203.00,130.77 L204.00,130.01 L205.00,129.23 L206.00,128.43 L207.00,127.60 L208.00,126.72 L209.00,125.78 L210.00,124.81 L211.00,123.81 L212.00,122.81 L213.00,121.83 L214.00,120.88 L215.00,120.00 L216.00,119.16 L217.00,118.35 L218.00,117.56 L219.00,116.78 L220.00,116.03 L221.00,115.28 L222.00,114.54 L223.00,113.82 L224.00,113.10 L225.00,112.38 L226.00,111.67 L227.00,110.95 L228.00,110.23 L229.00,109.51 L230.00,108.78 L231.00,108.04 L232.00,107.31 L233.00,106.58 L234.00,105.85 L235.00,105.12 L236.00,104.39 L237.00,103.67 L238.00,102.94 L239.00,102.22 L240.00,101.50 L241.00,100.77 L242.00,100.05 L243.00,99.33 L244.00,98.61 L245.00,97.90 L246.00,97.18 L247.00,96.46 L248.00,95.75 L249.00,95.03 L250.00,94.31 L251.00,93.60 L252.00,92.88 L253.00,92.17 L254.00,91.45 L255.00,90.73 L256.00,90.02 L257.00,89.30 L258.00,88.59 L259.00,87.87 L260.00,87.15 L261.00,86.44 L262.00,85.72 L263.00,85.00 L264.00,84.28 L265.00,83.57 L266.00,82.85 L267.00,82.14 L268.00,81.42 L269.00,80.70 L270.00,79.99 L271.00,79.27 L272.00,78.56 L273.00,77.84 L274.00,77.13 L275.00,76.42 L276.00,75.70 L277.00,74.99 L278.00,74.27 L279.00,73.56 L280.00,72.85 L281.00,72.13 L282.00,71.42 L283.00,70.71 L284.00,70.00 L285.00,69.28 L286.00,68.57 L287.00,67.86 L288.00,67.15 L289.00,66.44 L290.00,65.73 L291.00,65.02 L292.00,64.31 L293.00,63.60 L294.00,62.89 L295.00,62.18 L296.00,61.47 L297.00,60.76 L298.00,60.06 L299.00,59.35 L300.00,58.64 L301.00,57.93 L302.00,57.23 L303.00,56.52 L304.00,55.82 L305.00,55.11 L306.00,54.40 L307.00,53.70 L308.00,52.99 L309.00,52.28 L310.00,51.58 L311.00,50.87 L312.00,50.16 L313.00,49.46 L314.00,48.75 L315.00,48.04 L316.00,47.34 L317.00,46.63 L318.00,45.92 L319.00,45.21 L320.00,44.50 L321.00,43.79 L322.00,43.08 L323.00,42.38 L324.00,41.67 L325.00,40.96 L326.00,40.25 L327.00,39.54 L328.00,38.83 L329.00,38.12 L330.00,37.41 L331.00,36.70 L332.00,35.99 L333.00,35.28 L334.00,34.57 L335.00,33.85 L336.00,33.14 L337.00,32.43 L338.00,31.72 L339.00,31.01 L340.00,30.30 L341.00,29.59 L342.00,28.88 L343.00,28.17 L344.00,27.46 L345.00,26.74 L346.00,26.03 L347.00,25.32 L348.00,24.61 L349.00,23.90 L350.00,23.18 L351.00,22.47 L351.30,22.26" stroke="#00cc66" stroke-dasharray="7.3 4.1" stroke-dashoffset="3.67"/>
<path d="M150.00,159.70 L151.00,159.28 L152.00,158.89 L153.00,158.52 L154.00,158.16 L155.00,157.81 L156.00,157.46 L157.00,157.11 L158.00,156.76 L159.00,156.39 L160.00,156.00 L161.00,155.60 L162.00,155.20 L163.00,154.80 L164.00,154.39 L165.00,153.98 L166.00,153.56 L167.00,153.13 L168.00,152.69 L169.00,152.24 L170.00,151.77 L171.00,151.29 L172.00,150.80 L173.00,150.28 L174.00,149.74 L175.00,149.17 L176.00,148.59 L177.00,147.99 L178.00,147.37 L179.00,146.75 L180.00,146.12 L181.00,145.48 L182.00,144.85 L183.00,144.23 L184.00,143.61 L185.00,143.00 L186.00,142.41 L187.00,141.83 L188.00,141.26 L189.00,140.70 L190.00,140.14 L191.00,139.58 L192.00,139.02 L193.00,138.45 L194.00,137.87 L195.00,137.28 L196.00,136.67 L197.00,136.04 L198.00,135.39 L199.00,134.71 L200.00,134.00 L201.00,133.24 L202.00,132.43 L203.00,131.57 L204.00,130.68 L205.00,129.76 L206.00,128.83 L207.00,127.90 L208.00,126.94 L209.00,125.93 L210.00,124.89 L211.00,123.84 L212.00,122.80 L213.00,121.78 L214.00,120.81 L215.00,119.90 L216.00,119.05 L217.00,118.22 L218.00,117.42 L219.00,116.64 L220.00,115.88 L221.00,115.14 L222.00,114.40 L223.00,113.68 L224.00,112.97 L225.00,112.26 L226.00,111.55 L227.00,110.84 L228.00,110.13 L229.00,109.41 L230.00,108.68 L231.00,107.94 L232.00,107.21 L233.00,106.47 L234.00,105.74 L235.00,105.01 L236.00,104.28 L237.00,103.55 L238.00,102.82 L239.00,102.10 L240.00,101.37 L241.00,100.65 L242.00,99.92 L243.00,99.20 L244.00,98.48 L245.00,97.75 L246.00,97.03 L247.00,96.31 L248.00,95.59 L249.00,94.87 L250.00,94.15 L251.00,93.43 L252.00,92.71 L253.00,91.99 L254.00,91.27 L255.00,90.55 L256.00,89.83 L257.00,89.11 L258.00,88.39 L259.00,87.67 L260.00,86.95 L261.00,86.23 L262.00,85.51 L263.00,84.79 L264.00,84.07 L265.00,83.35 L266.00,82.63 L267.00,81.91 L268.00,81.19 L269.00,80.47 L270.00,79.75 L271.00,79.03 L272.00,78.31 L273.00,77.60 L274.00,76.88 L275.00,76.16 L276.00,75.44 L277.00,74.72 L278.00,74.01 L279.00,73.29 L280.00,72.57 L281.00,71.86 L282.00,71.14 L283.00,70.43 L284.00,69.71 L285.00,69.00 L286.00,68.28 L287.00,67.57 L288.00,66.85 L289.00,66.14 L290.00,65.43 L291.00,64.72 L292.00,64.00 L293.00,63.29 L294.00,62.58 L295.00,61.87 L296.00,61.17 L297.00,60.46 L298.00,59.75 L299.00,59.04 L300.00,58.33 L301.00,57.63 L302.00,56.92 L303.00,56.21 L304.00,55.51 L305.00,54.80 L306.00,54.10 L307.00,53.39 L308.00,52.69 L309.00,51.98 L310.00,51.27 L311.00,50.57 L312.00,49.86 L313.00,49.16 L314.00,48.45 L315.00,47.74 L316.00,47.04 L317.00,46.33 L318.00,45.62 L319.00,44.91 L320.00,44.20 L321.00,43.49 L322.00,42.78 L323.00,42.08 L324.00,41.37 L325.00,40.66 L326.00,39.95 L327.00,39.24 L328.00,38.53 L329.00,37.82 L330.00,37.11 L331.00,36.40 L332.00,35.69 L333.00,34.98 L334.00,34.27 L335.00,33.55 L336.00,32.84 L337.00,32.13 L338.00,31.42 L339.00,30.71 L340.00,30.00 L341.00,29.29 L342.00,28.58 L343.00,27.87 L344.00,27.16 L345.00,26.44 L346.00,25.73 L347.00,25.02 L348.00,24.31 L349.00,23.60 L350.00,22.88 L351.00,22.17 L351.30,21.96" stroke="#0a6cff" stroke-dasharray="7.3 4.1" stroke-dashoffset="3.72"/>
<path d="M150.00,160.00 L151.00,159.52 L152.00,159.05 L153.00,158.60 L154.00,158.15 L155.00,157.71 L156.00,157.27 L157.00,156.84 L158.00,156.40 L159.00,155.95 L160.00,155.50 L161.00,155.05 L162.00,154.60 L163.00,154.15 L164.00,153.70 L165.00,153.25 L166.00,152.80 L167.00,152.35 L168.00,151.88 L169.00,151.41 L170.00,150.92 L171.00,150.42 L172.00,149.90 L173.00,149.36 L174.00,148.80 L175.00,148.21 L176.00,147.62 L177.00,147.00 L178.00,146.38 L179.00,145.75 L180.00,145.11 L181.00,144.48 L182.00,143.85 L183.00,143.22 L184.00,142.60 L185.00,142.00 L186.00,141.41 L187.00,140.84 L188.00,140.27 L189.00,139.72 L190.00,139.17 L191.00,138.62 L192.00,138.07 L193.00,137.52 L194.00,136.95 L195.00,136.38 L196.00,135.79 L197.00,135.18 L198.00,134.54 L199.00,133.89 L200.00,133.20 L201.00,132.47 L202.00,131.69 L203.00,130.87 L204.00,130.02 L205.00,129.15 L206.00,128.27 L207.00,127.40 L208.00,126.51 L209.00,125.60 L210.00,124.66 L211.00,123.72 L212.00,122.78 L213.00,121.85 L214.00,120.96 L215.00,120.10 L216.00,119.28 L217.00,118.47 L218.00,117.68 L219.00,116.90 L220.00,116.14 L221.00,115.39 L222.00,114.64 L223.00,113.90 L224.00,113.17 L225.00,112.44 L226.00,111.71 L227.00,110.99 L228.00,110.26 L229.00,109.52 L230.00,108.78 L231.00,108.03 L232.00,107.29 L233.00,106.55 L234.00,105.80 L235.00,105.06 L236.00,104.32 L237.00,103.59 L238.00,102.85 L239.00,102.11 L240.00,101.37 L241.00,100.64 L242.00,99.90 L243.00,99.17 L244.00,98.44 L245.00,97.70 L246.00,96.97 L247.00,96.24 L248.00,95.51 L249.00,94.78 L250.00,94.05 L251.00,93.32 L252.00,92.59 L253.00,91.86 L254.00,91.13 L255.00,90.40 L256.00,89.67 L257.00,88.94 L258.00,88.21 L259.00,87.48 L260.00,86.75 L261.00,86.02 L262.00,85.29 L263.00,84.57 L264.00,83.84 L265.00,83.11 L266.00,82.38 L267.00,81.65 L268.00,80.93 L269.00,80.20 L270.00,79.47 L271.00,78.75 L272.00,78.02 L273.00,77.30 L274.00,76.57 L275.00,75.85 L276.00,75.12 L277.00,74.40 L278.00,73.67 L279.00,72.95 L280.00,72.23 L281.00,71.51 L282.00,70.78 L283.00,70.06 L284.00,69.34 L285.00,68.62 L286.00,67.90 L287.00,67.18 L288.00,66.46 L289.00,65.75 L290.00,65.03 L291.00,64.31 L292.00,63.59 L293.00,62.88 L294.00,62.16 L295.00,61.45 L296.00,60.74 L297.00,60.02 L298.00,59.31 L299.00,58.60 L300.00,57.89 L301.00,57.18 L302.00,56.46 L303.00,55.75 L304.00,55.04 L305.00,54.33 L306.00,53.62 L307.00,52.92 L308.00,52.21 L309.00,51.50 L310.00,50.79 L311.00,50.08 L312.00,49.37 L313.00,48.66 L314.00,47.96 L315.00,47.25 L316.00,46.54 L317.00,45.83 L318.00,45.12 L319.00,44.41 L320.00,43.70 L321.00,42.99 L322.00,42.28" stroke="#800080" stroke-dasharray="7.3 4.1" stroke-dashoffset="4.23"/>
<path d="M140.50,166.50 L141.50,165.85 L142.50,165.18 L143.50,164.50 L144.50,163.82 L145.50,163.16 L146.50,162.52 L147.50,161.91 L148.50,161.35 L149.50,160.83 L150.50,160.38 L151.50,159.98 L152.50,159.61 L153.50,159.26 L154.50,158.94 L155.50,158.62 L156.50,158.29 L157.50,157.96 L158.50,157.60 L159.50,157.21 L160.50,156.78 L161.50,156.32 L162.50,155.83 L163.50,155.32 L164.50,154.78 L165.50,154.23 L166.50,153.66 L167.50,153.08 L168.50,152.49 L169.50,151.90 L170.50,151.30 L171.50,150.70 L172.50,150.10 L173.50,149.48 L174.50,148.84 L175.50,148.19 L176.50,147.52 L177.50,146.85 L178.50,146.17 L179.50,145.50 L180.50,144.82 L181.50,144.15 L182.50,143.49 L183.50,142.84 L184.50,142.21 L185.50,141.60 L186.50,141.02 L187.50,140.47 L188.50,139.95 L189.50,139.43 L190.50,138.93 L191.50,138.43 L192.50,137.92 L193.50,137.40 L194.50,136.87 L195.50,136.31 L196.50,135.72 L197.50,135.09 L198.50,134.41 L199.50,133.68 L200.50,132.88 L201.50,131.89 L202.50,130.76 L203.50,129.56 L204.50,128.33 L205.50,127.15 L206.50,126.08 L207.50,125.16 L208.50,124.31 L209.50,123.52 L210.50,122.77 L211.50,122.04 L212.50,121.32 L213.50,120.60 L214.50,119.87 L215.50,119.12 L216.50,118.37 L217.50,117.61 L218.50,116.86 L219.50,116.11 L220.50,115.36 L221.50,114.61 L222.50,113.86 L223.50,113.11 L224.50,112.37 L225.50,111.62 L226.50,110.88 L227.50,110.13 L228.50,109.39 L229.50,108.65 L230.50,107.91 L231.50,107.17 L232.50,106.43 L233.50,105.69 L234.50,104.96 L235.50,104.22 L236.50,103.49 L237.50,102.75 L238.50,102.02 L239.50,101.29 L240.50,100.55 L241.50,99.82 L242.50,99.09 L243.50,98.36 L244.50,97.63 L245.50,96.90 L246.50,96.17 L247.50,95.44 L248.50,94.72 L249.50,93.99 L250.50,93.26 L251.50,92.53 L252.50,91.81 L253.50,91.08 L254.50,90.35 L255.50,89.63 L256.50,88.90 L257.50,88.17 L258.50,87.44 L259.50,86.72 L260.50,85.99 L261.50,85.26 L262.50,84.53 L263.50,83.81 L264.50,83.08 L265.50,82.35 L266.50,81.63 L267.50,80.90 L268.50,80.17 L269.50,79.44 L270.50,78.72 L271.50,77.99 L272.50,77.27 L273.50,76.54 L274.50,75.82 L275.50,75.09 L276.50,74.37 L277.50,73.64 L278.50,72.92 L279.50,72.19 L280.50,71.47 L281.50,70.75 L282.50,70.03 L283.50,69.30 L284.50,68.58 L285.50,67.86 L286.50,67.14 L287.50,66.42 L288.50,65.70 L289.50,64.99 L290.50,64.27 L291.50,63.55 L292.50,62.84 L293.50,62.12 L294.50,61.41 L295.50,60.69 L296.50,59.98 L297.50,59.27 L298.50,58.55 L299.50,57.84 L300.50,57.13 L301.50,56.42 L302.50,55.71 L303.50,55.00 L304.50,54.29 L305.50,53.58 L306.50,52.87 L307.50,52.16 L308.50,51.45 L309.50,50.74 L310.50,50.03 L311.50,49.33 L312.50,48.62 L313.50,47.91 L314.50,47.20 L315.50,46.49 L316.50,45.78 L317.50,45.08 L318.50,44.37 L319.50,43.66 L320.50,42.95 L321.50,42.24 L322.50,41.53 L323.50,40.82 L324.50,40.11 L325.50,39.40 L326.50,38.70 L327.50,37.99 L328.50,37.28 L329.50,36.57 L330.50,35.86 L331.50,35.15 L332.50,34.45 L333.50,33.74 L334.50,33.03 L335.50,32.32 L336.50,31.62 L337.50,30.91 L338.50,30.20 L339.50,29.49 L340.50,28.79 L341.50,28.08 L342.50,27.37 L343.50,26.67 L344.50,25.96 L345.50,25.25 L346.50,24.55 L347.50,23.84 L348.50,23.13 L349.50,22.43 L350.50,21.72 L351.30,21.16" stroke="#996633" stroke-dasharray="7.3 4.1" stroke-dashoffset="4.56"/>
<path d="M148.00,161.21 L149.00,160.75 L150.00,160.30 L151.00,159.86 L152.00,159.42 L153.00,159.00 L154.00,158.57 L155.00,158.16 L156.00,157.74 L157.00,157.31 L158.00,156.88 L159.00,156.45 L160.00,156.00 L161.00,155.55 L162.00,155.09 L163.00,154.64 L164.00,154.18 L165.00,153.72 L166.00,153.25 L167.00,152.77 L168.00,152.29 L169.00,151.79 L170.00,151.27 L171.00,150.75 L172.00,150.20 L173.00,149.63 L174.00,149.02 L175.00,148.39 L176.00,147.73 L177.00,147.06 L178.00,146.37 L179.00,145.68 L180.00,144.99 L181.00,144.30 L182.00,143.62 L183.00,142.96 L184.00,142.32 L185.00,141.70 L186.00,141.12 L187.00,140.58 L188.00,140.07 L189.00,139.58 L190.00,139.11 L191.00,138.64 L192.00,138.17 L193.00,137.69 L194.00,137.20 L195.00,136.68 L196.00,136.12 L197.00,135.52 L198.00,134.88 L199.00,134.17 L200.00,133.40 L201.00,132.43" stroke="#ff00ff" stroke-dasharray="7.3 4.1" stroke-dashoffset="1.53"/>
<path d="M206.00,125.64 L207.00,124.60 L208.00,123.77 L209.00,123.03 L210.00,122.35 L211.00,121.72 L212.00,121.11 L213.00,120.51 L214.00,119.88 L215.00,119.20 L216.00,118.49 L217.00,117.77 L218.00,117.03 L219.00,116.29 L220.00,115.55 L221.00,114.80 L222.00,114.04 L223.00,113.28 L224.00,112.52 L225.00,111.75 L226.00,110.99 L227.00,110.23 L228.00,109.48 L229.00,108.72 L230.00,107.98 L231.00,107.23 L232.00,106.49 L233.00,105.75 L234.00,105.01 L235.00,104.27 L236.00,103.53 L237.00,102.79 L238.00,102.05 L239.00,101.31 L240.00,100.57 L241.00,99.84 L242.00,99.10 L243.00,98.36 L244.00,97.62 L245.00,96.89 L246.00,96.15 L247.00,95.41 L248.00,94.68 L249.00,93.94 L250.00,93.21 L251.00,92.47 L252.00,91.74 L253.00,91.00 L254.00,90.27 L255.00,89.53 L256.00,88.80 L257.00,88.06 L258.00,87.32 L259.00,86.59 L260.00,85.85 L261.00,85.12 L262.00,84.38 L263.00,83.64 L264.00,82.91 L265.00,82.17 L266.00,81.43 L267.00,80.69 L268.00,79.95 L269.00,79.22 L270.00,78.48 L271.00,77.74 L272.00,77.00 L273.00,76.26 L274.00,75.53 L275.00,74.79 L276.00,74.05 L277.00,73.32 L278.00,72.58 L279.00,71.85 L280.00,71.11 L281.00,70.38 L282.00,69.65 L283.00,68.92 L284.00,68.19 L285.00,67.46 L286.00,66.73 L287.00,66.00 L288.00,65.28 L289.00,64.55 L290.00,63.83 L291.00,63.11 L292.00,62.39 L293.00,61.67 L294.00,60.95 L295.00,60.23 L296.00,59.52 L297.00,58.80 L298.00,58.09 L299.00,57.38 L300.00,56.66 L301.00,55.95 L302.00,55.24 L303.00,54.53 L304.00,53.82 L305.00,53.12 L306.00,52.41 L307.00,51.70 L308.00,50.99 L309.00,50.29 L310.00,49.58 L311.00,48.87" stroke="#ff00ff" stroke-dasharray="7.3 4.1" stroke-dashoffset="2.09"/>
<path d="M186.00,138.54 L187.00,137.96 L188.00,137.38 L189.00,136.79 L190.00,136.19 L191.00,135.58 L192.00,134.97 L193.00,134.35 L194.00,133.73 L195.00,133.10 L196.00,132.46 L197.00,131.83 L198.00,131.19 L199.00,130.54 L200.00,129.90 L201.00,129.25 L202.00,128.57 L203.00,127.89 L204.00,127.21 L205.00,126.53 L206.00,125.86 L207.00,125.20 L208.00,124.56 L209.00,123.92 L210.00,123.29 L211.00,122.66 L212.00,122.04 L213.00,121.43 L214.00,120.81 L215.00,120.20 L216.00,119.59 L217.00,119.00 L218.00,118.41 L219.00,117.83 L220.00,117.25 L221.00,116.67 L222.00,116.10 L223.00,115.52 L224.00,114.94 L225.00,114.35 L226.00,113.76" stroke="#ff0000"/>
</g>
<g font-family="Liberation Sans, sans-serif" fill="#707070" font-size="10.1" filter="url(#tb)" text-rendering="geometricPrecision">
<text x="9.5" y="215.6" text-anchor="middle">0.01</text>
<text x="64.3" y="215.6" text-anchor="middle">0.10</text>
<text x="174.2" y="215.6" text-anchor="middle">10</text>
<text x="229" y="215.6" text-anchor="middle">100</text>
<text x="283.65" y="215.6" text-anchor="middle">1000</text>
<text x="332.9" y="215.7" font-size="10.7">10<tspan font-size="7.2" dy="-5.0" dx="0.3">4</tspan></text>
<text x="117.5" y="90.6" text-anchor="end">1000</text>
<text x="117.5" y="129.3" text-anchor="end">100</text>
<text x="117.5" y="168.0" text-anchor="end">10</text>
<text x="117.2" y="245.5" text-anchor="end">0.1</text>
<text x="101.6" y="52.2" font-size="10.7">10<tspan font-size="7.2" dy="-4.7" dx="0.3">4</tspan></text>
</g>
<g font-family="Liberation Sans, sans-serif" fill="#555555" filter="url(#tb)" text-rendering="geometricPrecision">
<text x="102.3" y="23.2" font-size="17.2" font-style="italic">ε</text>
<text x="110.6" y="23.2" font-size="17.2">/</text>
<g fill="none" stroke="#555" stroke-linecap="round"><path d="M115.10,26.60 L122.90,16.00" stroke-width="1.75"/><path d="M115.80,17.30 C116.40,15.80 117.80,15.60 118.30,17.40 L120.50,25.00 C120.90,26.50 121.60,26.80 122.40,26.20" stroke-width="1.0"/></g>
<text x="123.5" y="25.6" font-size="9.6">0</text>
<text x="128.7" y="14.5" font-size="12.2">4</text>
<text x="363.6" y="210.7" font-size="17.2">P</text>
<text x="375.0" y="210.7" font-size="17.2">/</text>
<g fill="none" stroke="#555" stroke-linecap="round"><path d="M380.10,214.20 L387.90,203.60" stroke-width="1.75"/><path d="M380.80,204.90 C381.40,203.40 382.80,203.20 383.30,205.00 L385.50,212.60 C385.90,214.10 386.60,214.40 387.40,213.80" stroke-width="1.0"/></g>
<text x="388.3" y="213.6" font-size="9.6">0</text>
<text x="394.1" y="202.8" font-size="12.2">4</text>
</g>
</svg>
</body></html>
